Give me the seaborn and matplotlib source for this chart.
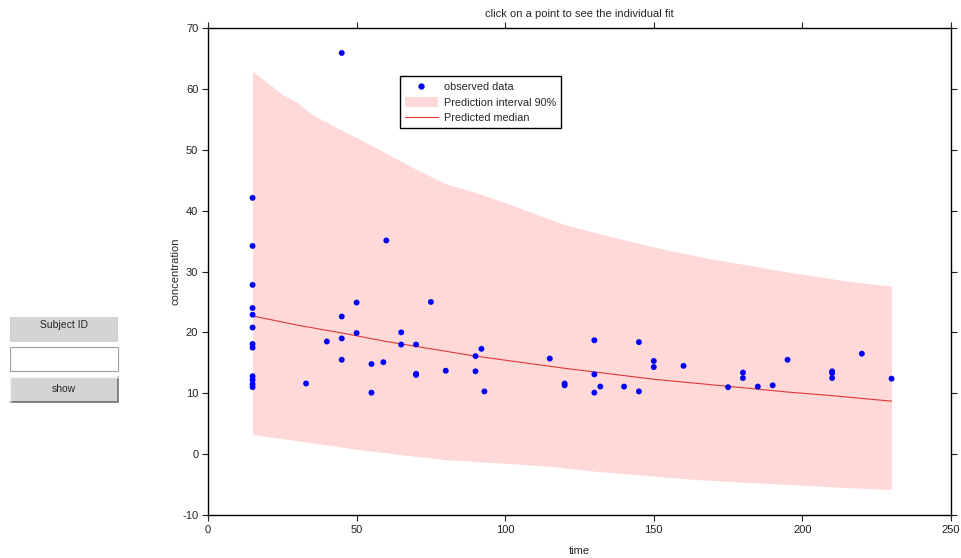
import matplotlib
matplotlib.use("Agg")
import matplotlib.pyplot as plt
import seaborn as sns
import numpy as np
from matplotlib.patches import Rectangle
from matplotlib.lines import Line2D

# observed data (time, concentration)
obs_time = [15, 15, 15, 15, 15, 15, 15, 15, 15, 15, 15, 15,
            33, 40, 45, 45, 45, 45, 50, 50, 55, 55, 59, 60, 65, 65,
            70, 70, 70, 75, 80, 90, 90, 92, 93, 115, 120, 120,
            130, 130, 130, 132, 140, 145, 145, 150, 150, 160, 175,
            180, 180, 185, 190, 195, 210, 210, 210, 220, 230]
obs_conc = [42.1, 34.2, 27.8, 24.0, 22.9, 20.8, 18.1, 17.5, 12.8, 12.2, 11.5, 11.0,
            11.6, 18.5, 65.9, 22.6, 19.0, 15.5, 24.9, 19.9, 14.8, 10.1, 15.1, 35.1, 20.0, 18.0,
            18.0, 13.2, 13.0, 25.0, 13.7, 16.1, 13.6, 17.3, 10.3, 15.7, 11.6, 11.3,
            18.7, 13.1, 10.1, 11.1, 11.1, 18.4, 10.3, 15.3, 14.3, 14.5, 11.0,
            13.4, 12.5, 11.1, 11.3, 15.5, 13.6, 13.3, 12.5, 16.5, 12.4]

# 90% prediction interval
upper_time = [15, 20, 25, 30, 35, 45, 50, 60, 70, 80, 90, 100, 110, 120,
              135, 145, 155, 170, 180, 195, 205, 215, 230]
upper_conc = [62.9, 61.0, 59.1, 57.8, 55.8, 53.2, 52.0, 49.4, 46.8, 44.4, 43.0, 41.3, 39.5, 37.7,
              35.8, 34.6, 33.5, 32.0, 31.2, 29.9, 29.2, 28.4, 27.6]
lower_time = [15, 30, 50, 65, 80, 100, 115, 130, 150, 165, 180, 200, 215, 230]
lower_conc = [3.2, 2.2, 0.8, -0.1, -0.9, -1.5, -2.0, -2.8, -3.6, -4.2, -4.6, -5.1, -5.5, -5.8]

# predicted median
med_time = [15, 30, 45, 60, 75, 90, 105, 120, 135, 150, 165, 180, 195, 210, 230]
med_conc = [22.7, 21.2, 19.9, 18.5, 17.3, 16.1, 15.1, 14.1, 13.2, 12.3, 11.6, 10.9, 10.2, 9.6, 8.7]

xticks = [0, 50, 100, 150, 200, 250]
yticks = [-10, 0, 10, 20, 30, 40, 50, 60, 70]

sns.set_style("white")
plt.rcParams["font.family"] = ["Liberation Sans", "DejaVu Sans"]
plt.rcParams["axes.unicode_minus"] = False

W, H = 962, 558
fig = plt.figure(figsize=(W / 100, H / 100), dpi=100)
ax = fig.add_axes([208 / W, 1 - 515 / H, 743 / W, 487 / H])

# band on a common grid of its own boundary times
band_t = np.array(sorted(set(upper_time) | set(lower_time)))
ax.fill_between(band_t, np.interp(band_t, lower_time, lower_conc),
                np.interp(band_t, upper_time, upper_conc),
                color="#ffd8d8", linewidth=0, zorder=1)

sns.lineplot(x=med_time, y=med_conc, ax=ax, color="#e03838", linewidth=0.8, zorder=2)
sns.scatterplot(x=obs_time, y=obs_conc, ax=ax, color="#0000ff", s=18,
                edgecolor="none", zorder=3)

ax.set_xlim(0, 250)
ax.set_ylim(-10, 70)
ax.set_xticks(xticks)
ax.set_yticks(yticks)
ax.tick_params(direction="out", length=4, width=0.8, labelsize=8,
               top=True, right=True, bottom=True, left=True,
               labeltop=False, labelright=False, pad=3, colors="#222222")
for s in ax.spines.values():
    s.set_linewidth(1.0)
    s.set_color("black")

ax.set_xlabel("time", fontsize=8, labelpad=8)
ax.set_ylabel("concentration", fontsize=8, labelpad=1)
ax.set_title("click on a point to see the individual fit", fontsize=8, pad=8)

handles = [
    Line2D([], [], marker="o", color="#0000ff", linestyle="none", markersize=3.5),
    Rectangle((0, 0), 1, 1, facecolor="#ffd8d8", edgecolor="none"),
    Line2D([], [], color="#e03838", linewidth=0.8),
]
leg = ax.legend(handles, ["observed data", "Prediction interval 90%", "Predicted median"],
                loc="upper left", bbox_to_anchor=(0.258, 0.901), fontsize=7.8,
                frameon=True, fancybox=False, framealpha=1, edgecolor="black",
                borderaxespad=0, handlelength=3.1, handleheight=1.1, handletextpad=0.5,
                labelspacing=0.45, borderpad=0.45)
leg.get_frame().set_linewidth(1.0)

# GUI controls on the left
def px_rect(x0, y0, x1, y1, **kw):
    r = Rectangle((x0 / W, 1 - y1 / H), (x1 - x0) / W, (y1 - y0) / H,
                  transform=fig.transFigure, **kw)
    fig.add_artist(r)

px_rect(10, 317, 118, 342, facecolor="#d4d4d4", edgecolor="none")
fig.text(64 / W, 1 - 325 / H, "Subject ID", ha="center", va="center", fontsize=7.5)
px_rect(10, 347, 118, 371, facecolor="white", edgecolor="#a0a0a0", linewidth=0.8)
px_rect(10, 377, 118, 402, facecolor="#d4d4d4", edgecolor="none")
fig.add_artist(Line2D([10 / W, 118 / W, 118 / W], [1 - 402 / H, 1 - 402 / H, 1 - 377 / H],
                      transform=fig.transFigure, color="#707070", linewidth=1.2))
fig.add_artist(Line2D([10 / W, 10 / W, 118 / W], [1 - 402 / H, 1 - 377 / H, 1 - 377 / H],
                      transform=fig.transFigure, color="#f0f0f0", linewidth=1.0))
fig.text(64 / W, 1 - 389.5 / H, "show", ha="center", va="center", fontsize=7.5)

fig.savefig("out.png", dpi=100)
